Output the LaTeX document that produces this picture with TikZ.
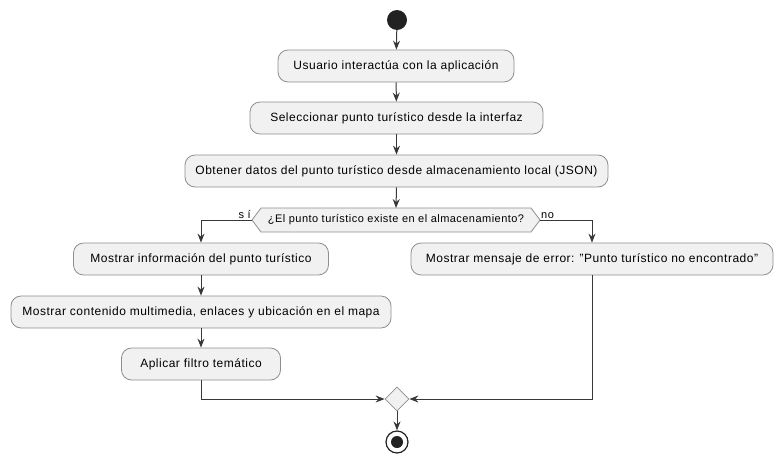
\documentclass[tikz,border=0pt]{standalone}
\usepackage{fontspec}
\setmainfont{Liberation Sans}[LetterSpace=4.2]
\usetikzlibrary{arrows.meta,shapes.geometric}
\definecolor{boxfill}{HTML}{F1F1F1}
\definecolor{boxline}{HTML}{8E8E8E}
\definecolor{arr}{HTML}{383838}
\definecolor{dot}{HTML}{222222}
\begin{document}
\begin{tikzpicture}[x=1pt,y=-1pt,
 act/.style={draw=boxline, fill=boxfill, rounded corners=10pt, minimum height=32pt, inner sep=0pt, font=\fontsize{12}{14}\selectfont, line width=0.8pt},
 flow/.style={draw=arr, line width=1pt, -{Stealth[length=9pt,width=7pt,inset=3pt]}},
 lbl/.style={font=\fontsize{11}{13}\selectfont, inner sep=0pt}]
\useasboundingbox (0,0) rectangle (784,464);
\node[circle, fill=dot, minimum size=20pt, inner sep=0pt] (start) at (397,20) {};
\node[act, minimum width=236pt] (a1) at (396,66) {Usuario interactúa con la aplicación};
\node[act, minimum width=293pt] (a2) at (396.5,118) {Seleccionar punto turístico desde la interfaz};
\node[act, minimum width=423pt] (a3) at (396.5,171) {Obtener datos del punto turístico desde almacenamiento local (JSON)};
\coordinate (decL) at (252,220);
\coordinate (decR) at (540,220);
\coordinate (decT) at (396,208);
\draw[draw=boxline, fill=boxfill, line width=0.8pt] (decL) -- (261,208) -- (531,208) -- (decR) -- (531,232) -- (261,232) -- cycle;
\node[font=\fontsize{11}{13}\selectfont, inner sep=0pt] (dec) at (396,220) {¿El punto turístico existe en el almacenamiento?};
\node[lbl, anchor=south east] (ysi) at (251,218.5) {s í};
\node[lbl, anchor=south west] (yno) at (541,218.5) {no};
\node[act, minimum width=255pt] (a4) at (201,259) {Mostrar información del punto turístico};
\node[act, minimum width=380pt] (a5) at (201,312) {Mostrar contenido multimedia, enlaces y ubicación en el mapa};
\node[act, minimum width=159pt] (a6) at (201,364) {Aplicar filtro temático};
\node[act, minimum width=362pt] (err) at (592,259) {Mostrar mensaje de error: "Punto turístico no encontrado"};
\node[diamond, draw=boxline, fill=boxfill, line width=0.8pt, minimum size=24pt, inner sep=0pt] (merge) at (397,399) {};
\node[circle, draw=dot, fill=white, line width=1.2pt, minimum size=22pt, inner sep=0pt] (end) at (397,442) {};
\node[circle, fill=dot, minimum size=12pt, inner sep=0pt] (endin) at (end) {};
\draw[flow] (start) -- (a1);
\draw[flow] (a1) -- (a2);
\draw[flow] (a2) -- (a3);
\draw[flow] (a3.south) -- (decT);
\draw[flow] (decL) -| (a4);
\draw[flow] (decR) -| (err);
\draw[flow] (a4) -- (a5);
\draw[flow] (a5) -- (a6);
\draw[flow] (a6) |- (merge);
\draw[flow] (err) |- (merge);
\draw[flow] (merge) -- (end);
\end{tikzpicture}
\end{document}
